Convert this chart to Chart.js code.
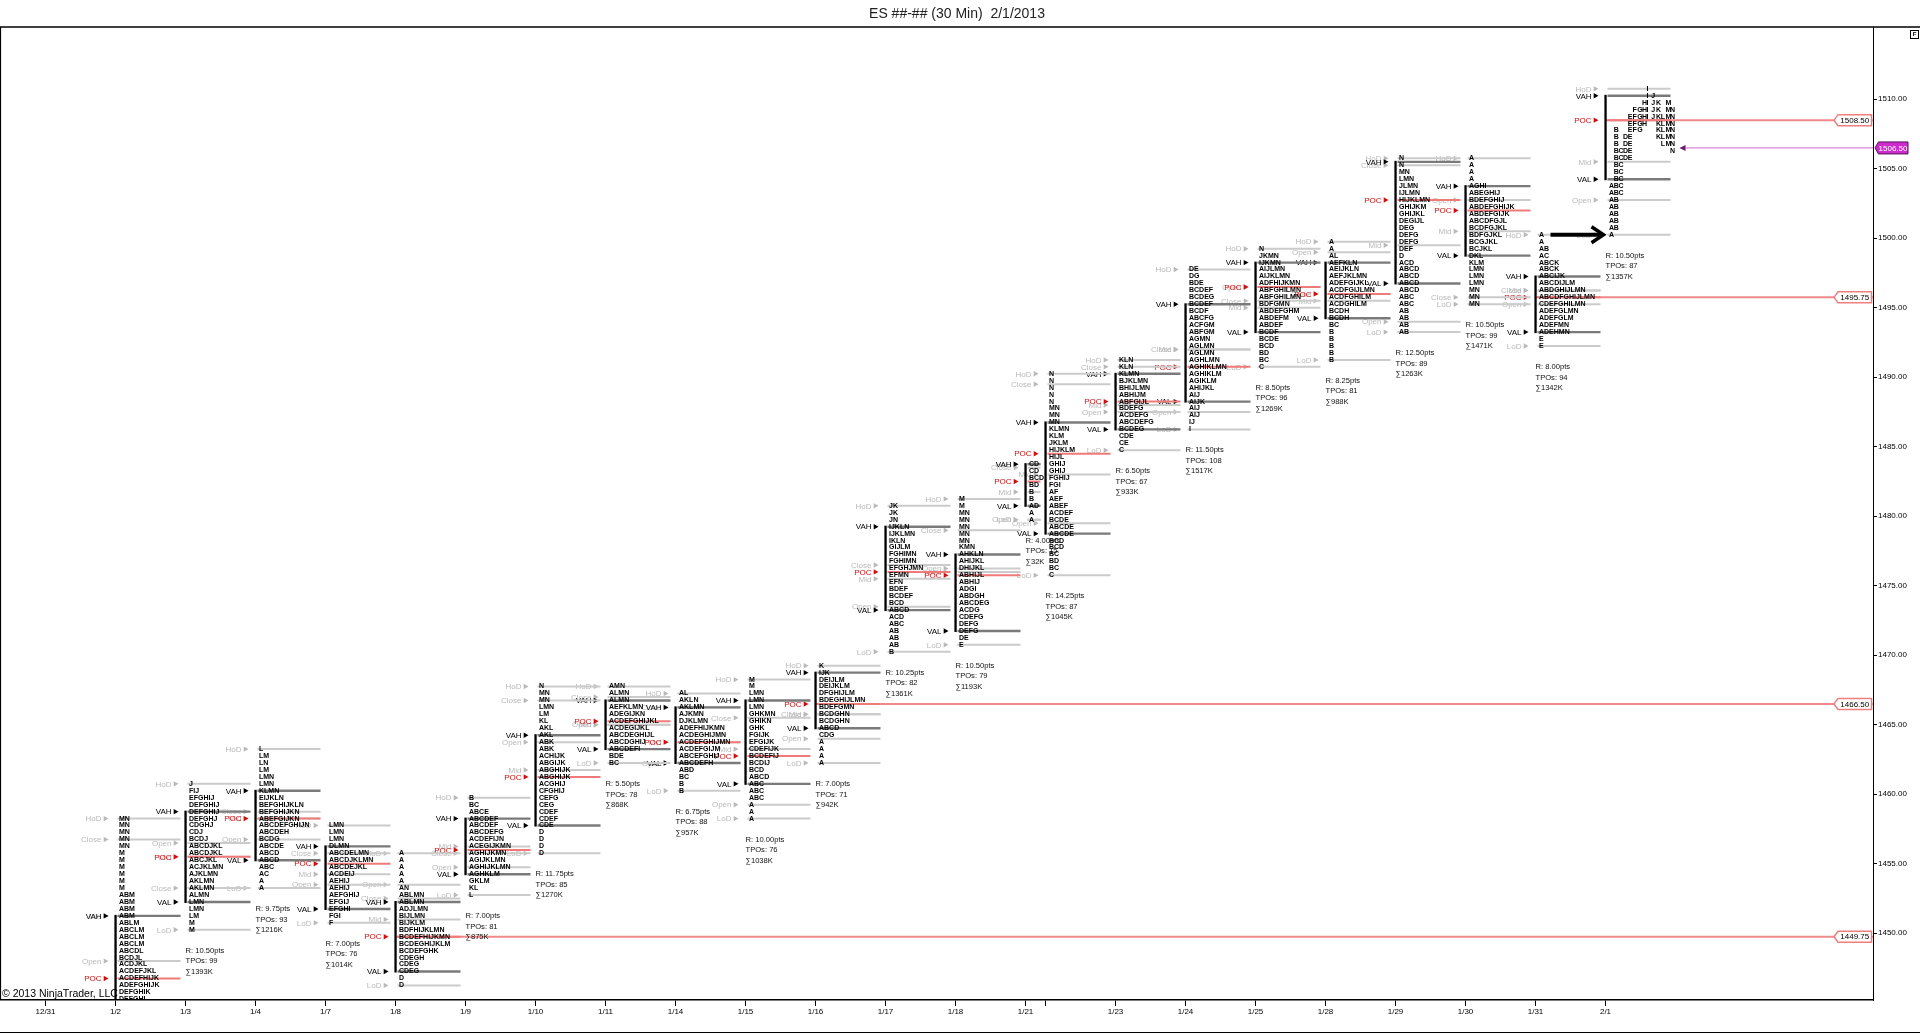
<!DOCTYPE html>
<html><head><meta charset="utf-8">
<script src="https://cdn.jsdelivr.net/npm/chart.js@4.4.1/dist/chart.umd.min.js"></script>
<style>html,body{margin:0;padding:0;background:#fff;overflow:hidden}#wrap{position:relative;width:1920px;height:1034px}</style>
</head><body><div id="wrap"><canvas id="c"></canvas></div>
<script>
const chartTitle = 'ES ##-## (30 Min)  2/1/2013';
const copyright = '\u00A9 2013 NinjaTrader, LLC';
const dates = ['12/31','1/2','1/3','1/4','1/7','1/8','1/9','1/10','1/11','1/14','1/15','1/16','1/17','1/18','1/21','1/22','1/23','1/24','1/25','1/28','1/29','1/30','1/31','2/1'];
const sessionBars = [14,14,14,14,14,14,14,14,14,14,14,14,14,14,4,14,14,14,14,14,14,14,14,14];
const priceTicks = [1450,1455,1460,1465,1470,1475,1480,1485,1490,1495,1500,1505,1510];
const rowSize = 0.5;

const profDates = ['1/2','1/3','1/4','1/7','1/8','1/9','1/10','1/11','1/14','1/15','1/16','1/17','1/18','1/21','1/22','1/23','1/24','1/25','1/28','1/29','1/30','1/31','2/1'];
const profHigh  = [1458.25,1460.75,1463.25,1457.75,1455.75,1459.75,1467.75,1467.75,1467.25,1468.25,1469.25,1480.75,1481.25,1483.75,1490.25,1491.25,1497.75,1499.25,1499.75,1505.75,1505.75,1500.25,1510.75];
const profVAH   = [1451.25,1458.75,1460.25,1456.25,1452.25,1458.25,1464.25,1466.75,1466.25,1466.75,1468.75,1479.25,1477.25,1483.75,1486.75,1490.25,1495.25,1498.25,1498.25,1505.5,1503.75,1497.25,1510.25];
const profVAL   = [1444.75,1452.25,1455.25,1451.75,1447.25,1454.25,1457.75,1463.25,1462.25,1460.75,1464.75,1473.25,1471.75,1480.75,1478.75,1486.25,1488.25,1493.25,1494.25,1496.75,1498.75,1493.25,1504.25];
const profPOC   = [1446.75,1455.5,1458.25,1455.0,1449.75,1456.0,1461.25,1465.25,1463.75,1462.75,1466.5,1476.0,1475.75,1482.5,1484.5,1488.25,1490.75,1496.5,1496.0,1502.75,1502.0,1495.75,1508.5];
const profOpen  = [1448.0,1456.5,1456.75,1453.5,1453.5,1454.75,1463.75,1465.0,1462.25,1459.25,1464.0,1473.5,1476.25,1479.75,1479.5,1487.5,1487.5,1496.5,1499.0,1494.0,1502.75,1495.25,1502.75];
const profClose = [1456.75,1453.25,1458.75,1455.75,1452.5,1455.75,1466.75,1467.0,1466.25,1465.5,1465.75,1476.5,1479.0,1483.5,1489.5,1490.75,1492.0,1495.5,1496.0,1505.25,1495.75,1496.25,null];
const profRange = [null,'10.50','9.75','7.00',null,'7.00','11.75','5.50','6.75','10.00','7.00','10.25','10.50','4.00','14.25','6.50','11.50','8.50','8.25','12.50','10.50','8.00','10.50'];
const profTPOs  = [null,99,93,76,null,81,85,78,88,76,71,82,79,15,87,67,108,96,81,89,99,94,87];
const profVolK  = [null,1393,1216,1014,null,875,1270,868,957,1038,942,1361,1193,32,1045,933,1517,1269,988,1263,1471,1342,1357];
const profRows = [
 ['MN','MN','MN','MN','MN','M','M','M','M','M','M','ABM','ABM','ABM','ABM','ABLM','ABCLM','ABCLM','ABCLM','ABCDL','BCDJL','ACDJKL','ACDEFJKL','ACDEFHIJK','ADEFGHIJK','DEFGHIK','DEFGHI','EFGH','E'],
 ['J','FIJ','EFGHIJ','DEFGHIJ','DEFGHIJ','DEFGHJ','CDGHJ','CDJ','BCDJ','ABCDJKL','ABCDJKL','ABCJKL','ACJKLMN','AJKLMN','AKLMN','AKLMN','ALMN','LMN','LMN','LM','M','M'],
 ['L','LM','LN','LM','LMN','LMN','KLMN','EIJKLN','BEFGHIJKLN','BEFGHIJKN','ABEFGIJKN','ABCDEFGHIJN','ABCDEH','BCDG','ABCDE','ABCD','ABCD','ABC','AC','A','A'],
 ['LMN','LMN','LMN','DLMN','ABCDELMN','ABCDJKLMN','ABCDEJKL','ACDEIJ','AEHIJ','AEHIJ','AEFGHIJ','EFGIJ','EFGHI','FGI','F'],
 ['A','A','A','A','A','AN','ABLMN','ABLMN','ADJLMN','BIJLMN','BIJKLM','BDFHIJKLMN','BCDEFHIJKMN','BCDEGHIJKLM','BCDEFGHK','CDEGH','CDEG','CDEG','D','D'],
 ['B','BC','ABCE','ABCDEF','ABCDEF','ABCDEFG','ACDEFIJN','ACEGIJKMN','AGHIJKMN','AGIJKLMN','AGHIJKLMN','AGHKLM','GKLM','KL','L'],
 ['N','MN','MN','LMN','LM','KL','AKL','AKL','ABK','ABK','ACHIJK','ABGIJK','ABGHIJK','ABGHIJK','ACGHIJ','CFGHIJ','CEFG','CEG','CDEF','CDEF','CDE','D','D','D','D'],
 ['AMN','ALMN','ALMN','AEFKLMN','ADEGIJKN','ACDEFGHIJKL','ACDEGIJKL','ABCDEGHIJL','ABCDGHIJ','ABCDEFI','BDE','BC'],
 ['AL','AKLN','AKLMN','AJKMN','DJKLMN','ADEFHIJKMN','ACDEGHIJMN','ACDEFGHIJMN','ACDEFGIJM','ABCEFGHIJ','ABCDEFH','ABD','BC','B','B'],
 ['M','M','LMN','LMN','LMN','GHKMN','GHIKN','GHK','FGIJK','EFGIJK','CDEFIJK','BCDEFIJ','BCDIJ','BCD','ABCD','ABC','ABC','ABC','A','A','A'],
 ['K','IJK','DEIJLM','DEIJKLM','DFGHIJLM','BDEGHIJLMN','BDEFGMN','BCDGHN','BCDGHN','ABCD','CDG','A','A','A','A'],
 ['JK','JK','JN','IJKLN','IJKLMN','IKLN','GIJLM','FGHIMN','FGHIMN','EFGHJMN','EFMN','EFN','BDEF','BCDEF','BCD','ABCD','ACD','ABC','AB','AB','AB','B'],
 ['M','M','MN','MN','MN','MN','MN','KMN','AHKLN','AHIJKL','DHIJKL','ABHIJL','ABHIJ','ADGI','ABDGH','ABCDEG','ACDG','CDEFG','DEFG','DEFG','DE','E'],
 ['CD','CD','BCD','BD','B','B','AD','A','A'],
 ['N','N','N','N','N','MN','MN','MN','KLMN','KLM','JKLM','HIJKLM','HIJL','GHIJ','GHIJ','FGHIJ','FGI','AF','AEF','ABEF','ACDEF','BCDE','ABCDE','ABCDE','BCD','BCD','BC','BD','BC','C'],
 ['KLN','KLN','KLMN','BJKLMN','BHIJLMN','ABHIJM','ABFGIJL','BDEFG','ACDEFG','ABCDEFG','BCDEG','CDE','CE','C'],
 ['DE','DG','BDE','BCDEF','BCDEG','BCDEF','BCDF','ABCFG','ACFGM','ABFGM','AGMN','AGLMN','AGLMN','AGHLMN','AGHIKLMN','AGHIKLM','AGIKLM','AHIJKL','AIJ','AIJK','AIJ','AIJ','IJ','I'],
 ['N','JKMN','IJKMN','AIJLMN','AIJKLMN','ADFHIJKMN','ABFGHILMN','ABFGHILMN','BDFGMN','ABDEFGHM','ABDEFM','ABDEF','BCDF','BCDE','BCD','BD','BC','C'],
 ['A','A','AL','AEFKLN','AEIJKLN','AEFJKLMN','ADEFGIJKL','ACDFGIJLMN','ACDFGHILM','ACDGHILM','BCDH','BCDH','BC','B','B','B','B','B'],
 ['N','N','MN','LMN','JLMN','IJLMN','HIJKLMN','GHIJKM','GHIJKL','DEGIJL','DEG','DEFG','DEFG','DEF','D','ACD','ABCD','ABCD','ABCD','ABCD','ABC','ABC','AB','AB','AB','AB'],
 ['A','A','A','A','AGHI','ABEGHIJ','BDEFGHIJ','ABDEFGHIJK','ABDEFGIJK','ABCDFGJL','BCDFGJKL','BDFGJKL','BCGJKL','BCJKL','DKL','KLM','LMN','LMN','LMN','MN','MN','MN'],
 ['A','A','AB','AC','ABCK','ABCK','ABCIJK','ABCDIJLM','ABDGHIJLMN','ABCDFGHIJLMN','CDEFGHILMN','ADEFGLMN','ADEFGLM','ADEFMN','ADEHMN','E','E'],
 ['I','IJ','HIJKM','FGHIJKMN','EFGHIJKLMN','EFGHKLMN','BEFGKLMN','BDEKLMN','BDELMN','BCDEN','BCDE','BC','BC','BC','ABC','ABC','AB','AB','AB','AB','AB','A']
];
const nakedPOCDates = ['1/8','1/16','1/31','2/1'];
const columnDates = ['2/1'];
const lastPrice = 1506.5;
const arrowPrice = 1500.25;

const FONT = '"Liberation Sans", Arial, sans-serif';
const sessionStart = [];
sessionBars.reduce((acc, b) => { sessionStart.push(acc); return acc + b; }, 0);
const lastStart = sessionStart[sessionStart.length - 1];
const xMin = -8.9, xMax = lastStart + 53.5;

function profInfo(i) {
  const di = dates.indexOf(profDates[i]);
  const hi = profHigh[i];
  const lo = hi - rowSize * (profRows[i].length - 1);
  return { di, sb: sessionStart[di], nb: sessionBars[di], hi, lo, mid: (hi + lo) / 2 };
}

const datasets = nakedPOCDates.map(d => {
  const i = profDates.indexOf(d); const p = profInfo(i);
  return { data: [{ x: p.sb, y: profPOC[i] }, { x: xMax, y: profPOC[i] }], showLine: true, borderColor: '#f08a8a', borderWidth: 2, pointRadius: 0 };
});
datasets.push({ data: [{ x: lastStart + 15, y: lastPrice }, { x: xMax, y: lastPrice }], showLine: true, borderColor: '#d98ad9', borderWidth: 1.2, pointRadius: 0 });

function tri(ctx, xr, yc, color) {
  ctx.fillStyle = color; ctx.beginPath();
  ctx.moveTo(xr, yc); ctx.lineTo(xr - 4.8, yc - 2.7); ctx.lineTo(xr - 4.8, yc + 2.7); ctx.closePath(); ctx.fill();
}
function label(ctx, text, x0, yc, color) {
  const xr = x0 - 7;
  tri(ctx, xr, yc, color);
  ctx.fillStyle = color; ctx.textAlign = 'right'; ctx.textBaseline = 'middle';
  ctx.font = '8px ' + FONT;
  ctx.fillText(text, xr - 7, yc + 0.5);
}
function hline(ctx, xa, xb, yy, color, w) {
  ctx.strokeStyle = color; ctx.lineWidth = w; ctx.beginPath(); ctx.moveTo(xa, yy); ctx.lineTo(xb, yy); ctx.stroke();
}

const profilePlugin = {
  id: 'profiles',
  afterDatasetsDraw(chart) {
    const { ctx, chartArea: ca, scales: { x, y } } = chart;
    ctx.save();
    ctx.beginPath(); ctx.rect(ca.left, ca.top, ca.right - ca.left, ca.bottom - ca.top); ctx.clip();
    const P = profDates.map((d, i) => profInfo(i));
    P.forEach((p, i) => {
      const x0 = x.getPixelForValue(p.sb);
      const g = '#b9b9b9';
      [['HoD', p.hi], ['Close', profClose[i]], ['Open', profOpen[i]], ['Mid', p.mid], ['LoD', p.lo]].forEach(([t, v]) => {
        if (v != null) label(ctx, t, x0, y.getPixelForValue(v), g);
      });
    });
    P.forEach((p, i) => {
      const x0 = x.getPixelForValue(p.sb);
      label(ctx, 'VAH', x0, y.getPixelForValue(profVAH[i]), '#000');
      label(ctx, 'VAL', x0, y.getPixelForValue(profVAL[i]), '#000');
      label(ctx, 'POC', x0, y.getPixelForValue(profPOC[i]), '#d01010');
    });
    P.forEach((p, i) => {
      const x0 = x.getPixelForValue(p.sb), x1 = x.getPixelForValue(p.sb + p.nb - 1);
      [p.hi, profClose[i], profOpen[i], p.mid, p.lo].forEach(v => { if (v != null) hline(ctx, x0 + 2, x1, y.getPixelForValue(v), '#cbcbcb', 2); });
    });
    P.forEach((p, i) => {
      const x0 = x.getPixelForValue(p.sb), x1 = x.getPixelForValue(p.sb + p.nb - 1);
      hline(ctx, x0 + 2, x1, y.getPixelForValue(profVAH[i]), '#7a7a7a', 2.4);
      hline(ctx, x0 + 2, x1, y.getPixelForValue(profVAL[i]), '#7a7a7a', 2.4);
    });
    P.forEach((p, i) => {
      const x0 = x.getPixelForValue(p.sb), x1 = x.getPixelForValue(p.sb + p.nb - 1);
      hline(ctx, x0 + 2, x1, y.getPixelForValue(profPOC[i]), '#f07a7a', 2);
    });
    ctx.fillStyle = '#000'; ctx.textAlign = 'left'; ctx.textBaseline = 'middle';
    ctx.font = 'bold 7px ' + FONT;
    P.forEach((p, i) => {
      const x0 = x.getPixelForValue(p.sb);
      const cols = columnDates.includes(profDates[i]);
      const colW = (x.getPixelForValue(p.sb + 1) - x0) * 0.94;
      profRows[i].forEach((r, k) => {
        const yy = y.getPixelForValue(p.hi - k * rowSize);
        if (cols) {
          for (const ch of r) ctx.fillText(ch, x0 + 3.5 + (ch.charCodeAt(0) - 65) * colW, yy);
        } else {
          ctx.fillText(r, x0 + 3.5, yy);
        }
      });
    });
    ctx.fillStyle = '#000';
    P.forEach((p, i) => {
      const x0 = x.getPixelForValue(p.sb);
      const ya = y.getPixelForValue(profVAH[i]), yb = y.getPixelForValue(profVAL[i]);
      ctx.fillRect(x0 - 1.1, ya - 1, 2.3, yb - ya + 2);
    });
    ctx.font = '7.6px ' + FONT; ctx.textAlign = 'left'; ctx.textBaseline = 'middle'; ctx.fillStyle = '#111';
    P.forEach((p, i) => {
      if (profRange[i] == null) return;
      const x0 = x.getPixelForValue(p.sb);
      const yb = y.getPixelForValue(p.lo);
      ctx.fillText('R: ' + profRange[i] + 'pts', x0, yb + 21);
      ctx.fillText('TPOs: ' + profTPOs[i], x0, yb + 31.5);
      ctx.fillText('\u2211' + profVolK[i] + 'K', x0, yb + 42);
    });
    const ay = y.getPixelForValue(arrowPrice);
    const ax0 = x.getPixelForValue(lastStart - 11), ax1 = x.getPixelForValue(lastStart - 0.4);
    ctx.strokeStyle = '#000'; ctx.lineWidth = 4; ctx.lineCap = 'butt';
    ctx.beginPath(); ctx.moveTo(ax0, ay); ctx.lineTo(ax1 - 2, ay); ctx.stroke();
    ctx.lineWidth = 3.5; ctx.beginPath(); ctx.moveTo(ax1 - 12, ay - 8); ctx.lineTo(ax1, ay); ctx.lineTo(ax1 - 12, ay + 8); ctx.stroke();
    const cx = x.getPixelForValue(lastStart + 15), cy = y.getPixelForValue(lastPrice);
    ctx.fillStyle = '#6a1f6a'; ctx.beginPath(); ctx.moveTo(cx - 1, cy); ctx.lineTo(cx + 5, cy - 3); ctx.lineTo(cx + 5, cy + 3); ctx.closePath(); ctx.fill();
    ctx.restore();

    ctx.save();
    ctx.font = '8px ' + FONT; ctx.textAlign = 'center'; ctx.textBaseline = 'middle';
    nakedPOCDates.forEach(d => {
      const i = profDates.indexOf(d); const v = profPOC[i];
      const yy = y.getPixelForValue(v), r = ca.right - 1.5, l = ca.right - 39;
      ctx.fillStyle = '#fff'; ctx.strokeStyle = '#ee7f7f'; ctx.lineWidth = 1.5;
      ctx.beginPath(); ctx.moveTo(l, yy); ctx.lineTo(l + 4, yy - 5.5); ctx.lineTo(r, yy - 5.5); ctx.lineTo(r, yy + 5.5); ctx.lineTo(l + 4, yy + 5.5); ctx.closePath();
      ctx.fill(); ctx.stroke();
      ctx.fillStyle = '#000'; ctx.fillText(v.toFixed(2), (l + r) / 2 + 2, yy + 0.5);
    });
    const py = y.getPixelForValue(lastPrice), pl = ca.right + 2, pr = ca.right + 35;
    ctx.fillStyle = '#cc2ccc'; ctx.strokeStyle = '#5a105a'; ctx.lineWidth = 1;
    ctx.beginPath(); ctx.moveTo(pl, py); ctx.lineTo(pl + 3.5, py - 6); ctx.lineTo(pr, py - 6); ctx.lineTo(pr, py + 6); ctx.lineTo(pl + 3.5, py + 6); ctx.closePath();
    ctx.fill(); ctx.stroke();
    ctx.fillStyle = '#fff'; ctx.fillText(lastPrice.toFixed(2), (pl + pr) / 2 + 1.5, py + 0.5);
    ctx.restore();
  },
  afterDraw(chart) {
    const { ctx, chartArea: ca, width, height } = chart;
    ctx.save();
    ctx.strokeStyle = '#000'; ctx.lineWidth = 1.5;
    ctx.beginPath(); ctx.moveTo(0, ca.top); ctx.lineTo(width, ca.top); ctx.stroke();
    ctx.lineWidth = 1.2;
    ctx.beginPath(); ctx.moveTo(ca.left - 0.5, ca.top); ctx.lineTo(ca.left - 0.5, ca.bottom); ctx.stroke();
    ctx.beginPath(); ctx.moveTo(0, height - 1.5); ctx.lineTo(width, height - 1.5); ctx.stroke();
    ctx.fillStyle = '#222'; ctx.font = '14px ' + FONT; ctx.textAlign = 'center'; ctx.textBaseline = 'middle';
    ctx.fillText(chartTitle, 957, 14);
    ctx.fillStyle = '#000'; ctx.font = '10.5px ' + FONT; ctx.textAlign = 'left'; ctx.textBaseline = 'alphabetic';
    ctx.fillText(copyright, 2, 997);
    ctx.lineWidth = 1; ctx.strokeRect(width - 9.5, ca.top + 3.5, 8, 8);
    ctx.font = 'bold 6px ' + FONT; ctx.textAlign = 'center'; ctx.textBaseline = 'middle';
    ctx.fillText('F', width - 5.5, ca.top + 7.8);
    ctx.restore();
  }
};

new Chart(document.getElementById('c'), {
  type: 'scatter',
  data: { datasets },
  options: {
    responsive: true, maintainAspectRatio: false, animation: false, events: [],
    layout: { padding: { top: 27, left: 1, right: 0, bottom: 0 } },
    plugins: { legend: { display: false }, tooltip: { enabled: false }, title: { display: false } },
    scales: {
      x: {
        type: 'linear', min: xMin, max: xMax, bounds: 'data',
        afterBuildTicks: s => { s.ticks = sessionStart.map(v => ({ value: v })); },
        afterFit: s => { s.height = 34; },
        grid: { drawOnChartArea: false, drawTicks: true, tickLength: 6, tickColor: '#000', color: '#000' },
        border: { display: true, color: '#000', width: 1.5 },
        ticks: {
          autoSkip: false, maxRotation: 0, minRotation: 0, padding: 1, color: '#000', font: { family: FONT, size: 8 },
          callback: v => { const k = sessionStart.indexOf(v); if (k < 0) return ''; return (k > 0 && sessionBars[k - 1] < 7) ? '' : dates[k]; }
        }
      },
      y: {
        position: 'right', min: 1445.2, max: 1515.2, bounds: 'data',
        afterBuildTicks: s => { s.ticks = priceTicks.map(v => ({ value: v })); },
        afterFit: s => { s.width = 47; },
        grid: { drawOnChartArea: false, drawTicks: true, tickLength: 4, tickColor: '#000' },
        border: { display: true, color: '#000', width: 1 },
        ticks: { padding: 1, color: '#000', font: { family: FONT, size: 8 }, callback: v => Number(v).toFixed(2) }
      }
    }
  },
  plugins: [profilePlugin]
});
</script></body></html>
